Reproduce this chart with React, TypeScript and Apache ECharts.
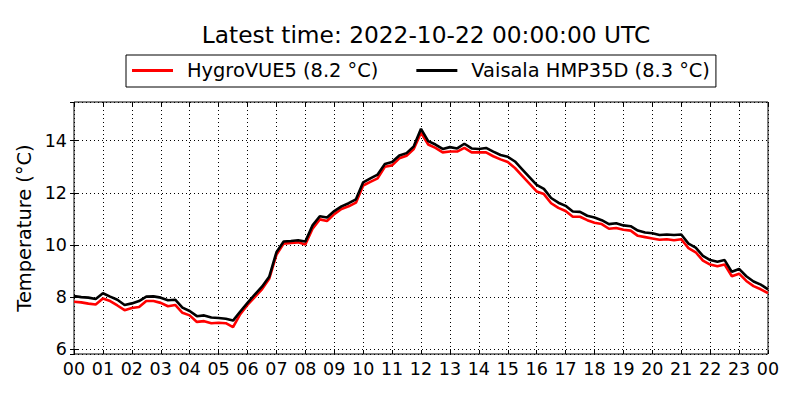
import React, { useEffect, useRef } from "react";
import * as echarts from "echarts";

const TITLE = "Latest time: 2022-10-22 00:00:00 UTC";
const Y_NAME = "Temperature (°C)";
const SERIES_NAMES = ["HygroVUE5 (8.2 °C)", "Vaisala HMP35D (8.3 °C)"];

// hours since 2022-10-21 00:00 UTC, 15-minute steps
const HOURS: number[] = [
  0, 0.25, 0.5, 0.75, 1, 1.25, 1.5, 1.75, 2, 2.25, 2.5, 2.75, 3, 3.25, 3.5, 3.75,
  4, 4.25, 4.5, 4.75, 5, 5.25, 5.5, 5.75, 6, 6.25, 6.5, 6.75, 7, 7.25, 7.5, 7.75,
  8, 8.25, 8.5, 8.75, 9, 9.25, 9.5, 9.75, 10, 10.25, 10.5, 10.75, 11, 11.25, 11.5, 11.75,
  12, 12.25, 12.5, 12.75, 13, 13.25, 13.5, 13.75, 14, 14.25, 14.5, 14.75, 15, 15.25, 15.5, 15.75,
  16, 16.25, 16.5, 16.75, 17, 17.25, 17.5, 17.75, 18, 18.25, 18.5, 18.75, 19, 19.25, 19.5, 19.75,
  20, 20.25, 20.5, 20.75, 21, 21.25, 21.5, 21.75, 22, 22.25, 22.5, 22.75, 23, 23.25, 23.5, 23.75, 24,
];

const HYGROVUE5: number[] = [
  7.82, 7.8, 7.75, 7.72, 7.95, 7.85, 7.68, 7.5, 7.58, 7.62, 7.85, 7.85, 7.78, 7.65, 7.7, 7.4,
  7.3, 7.05, 7.08, 7.0, 7.02, 7.0, 6.85, 7.35, 7.7, 8.0, 8.3, 8.7, 9.62, 10.05, 10.08, 10.1,
  10.02, 10.62, 10.98, 10.92, 11.18, 11.38, 11.48, 11.62, 12.28, 12.42, 12.55, 13.0, 13.05, 13.32, 13.42, 13.68,
  14.3, 13.85, 13.72, 13.55, 13.58, 13.58, 13.72, 13.55, 13.55, 13.55, 13.4, 13.28, 13.18, 12.95, 12.65, 12.35,
  12.05, 11.95, 11.6, 11.42, 11.3, 11.08, 11.08, 10.95, 10.85, 10.8, 10.62, 10.65, 10.58, 10.55, 10.35, 10.3,
  10.25, 10.2, 10.22, 10.18, 10.22, 9.88, 9.72, 9.4, 9.25, 9.18, 9.25, 8.8, 8.9, 8.62, 8.42, 8.3, 8.15,
];

const HMP35D: number[] = [
  8.04, 8.0, 7.98, 7.93, 8.15, 8.02, 7.9, 7.7, 7.76, 7.85, 8.02, 8.03, 7.98, 7.88, 7.9, 7.6,
  7.47, 7.27, 7.3, 7.22, 7.2, 7.17, 7.1, 7.45, 7.78, 8.1, 8.4, 8.78, 9.72, 10.13, 10.15, 10.18,
  10.13, 10.75, 11.1, 11.05, 11.3, 11.48, 11.6, 11.75, 12.4, 12.55, 12.7, 13.1, 13.18, 13.43, 13.52, 13.78,
  14.45, 13.98, 13.85, 13.68, 13.75, 13.7, 13.88, 13.7, 13.68, 13.72, 13.58, 13.45, 13.38, 13.2, 12.9, 12.6,
  12.3, 12.15, 11.8, 11.62, 11.5, 11.28, 11.27, 11.12, 11.05, 10.95, 10.8, 10.83, 10.75, 10.72, 10.55, 10.48,
  10.45, 10.38, 10.4, 10.38, 10.4, 10.05, 9.9, 9.58, 9.42, 9.36, 9.42, 8.97, 9.08, 8.8, 8.6, 8.48, 8.3,
];

const Y_MIN = 5.82;
const Y_MAX = 15.48;
const FONT = "DejaVu Sans";

export default function App() {
  const ref = useRef<HTMLDivElement>(null);
  useEffect(() => {
    if (!ref.current) return;
    const chart = echarts.init(ref.current, undefined, { renderer: "svg" });
    const fmtHour = (v: number) => String(Math.round(v) % 24).padStart(2, "0");
    const evenOnly = (v: number) => (Math.abs(v - Math.round(v)) < 1e-6 && Math.round(v) % 2 === 0 ? String(Math.round(v)) : "");
    const splitStyle = { show: true, lineStyle: { color: "#000", type: [1, 3] as any, width: 1 } };
    chart.setOption({
      animation: false,
      backgroundColor: "#fff",
      textStyle: { fontFamily: FONT },
      title: {
        text: TITLE,
        left: 421,
        textAlign: "center",
        top: 18,
        textStyle: { fontFamily: FONT, fontSize: 23.3, fontWeight: "normal", color: "#000" },
      },
      legend: {
        left: 126,
        top: 55,
        data: SERIES_NAMES,
        icon: "rect",
        itemWidth: 41,
        itemHeight: 3,
        itemGap: 38,
        padding: [6, 6, 7, 6],
        borderColor: "#000",
        borderWidth: 1,
        borderRadius: 0,
        textStyle: { fontFamily: FONT, fontSize: 19.4, color: "#000", padding: [0, 0, 0, 9] },
      },
      grid: {
        left: 74,
        top: 102,
        width: 694,
        height: 252,
        show: true,
        borderColor: "#000",
        borderWidth: 1,
        backgroundColor: "transparent",
      },
      xAxis: [
        {
          type: "value",
          min: 0,
          max: 24,
          interval: 1,
          axisLine: { show: false },
          axisTick: { show: true, inside: true, length: 4, lineStyle: { color: "#000" } },
          axisLabel: { formatter: fmtHour, fontFamily: FONT, fontSize: 17.5, color: "#000", margin: 6 },
          splitLine: splitStyle,
        },
        {
          type: "value",
          position: "top",
          min: 0,
          max: 24,
          interval: 1,
          axisLine: { show: false },
          axisTick: { show: true, inside: true, length: 4, lineStyle: { color: "#000" } },
          axisLabel: { show: false },
          splitLine: { show: false },
        },
      ],
      yAxis: [
        {
          type: "value",
          min: Y_MIN,
          max: Y_MAX,
          splitNumber: 5,
          name: Y_NAME,
          nameLocation: "middle",
          nameGap: 36,
          nameTextStyle: { fontFamily: FONT, fontSize: 19.4, color: "#000" },
          axisLine: { show: false },
          axisTick: { show: true, inside: true, length: 4, lineStyle: { color: "#000" } },
          axisLabel: {
            formatter: evenOnly,
            showMinLabel: false,
            showMaxLabel: false,
            fontFamily: FONT,
            fontSize: 17.5,
            color: "#000",
            margin: 7,
          },
          splitLine: splitStyle,
        },
        {
          type: "value",
          position: "right",
          min: Y_MIN,
          max: Y_MAX,
          splitNumber: 5,
          axisLine: { show: false },
          axisTick: { show: true, inside: true, length: 4, lineStyle: { color: "#000" } },
          axisLabel: { show: false },
          splitLine: { show: false },
        },
      ],
      series: [
        {
          name: SERIES_NAMES[0],
          type: "line",
          data: HOURS.map((h, i) => [h, HYGROVUE5[i]]),
          showSymbol: false,
          symbol: "none",
          lineStyle: { color: "#ff0000", width: 2.6 },
          itemStyle: { color: "#ff0000" },
        },
        {
          name: SERIES_NAMES[1],
          type: "line",
          data: HOURS.map((h, i) => [h, HMP35D[i]]),
          showSymbol: false,
          symbol: "none",
          lineStyle: { color: "#000000", width: 2.6 },
          itemStyle: { color: "#000000" },
        },
      ],
    });
    return () => chart.dispose();
  }, []);
  return (
    <div
      ref={ref}
      style={{ position: "fixed", left: 0, top: 0, width: 800, height: 400, background: "#fff" }}
    />
  );
}
